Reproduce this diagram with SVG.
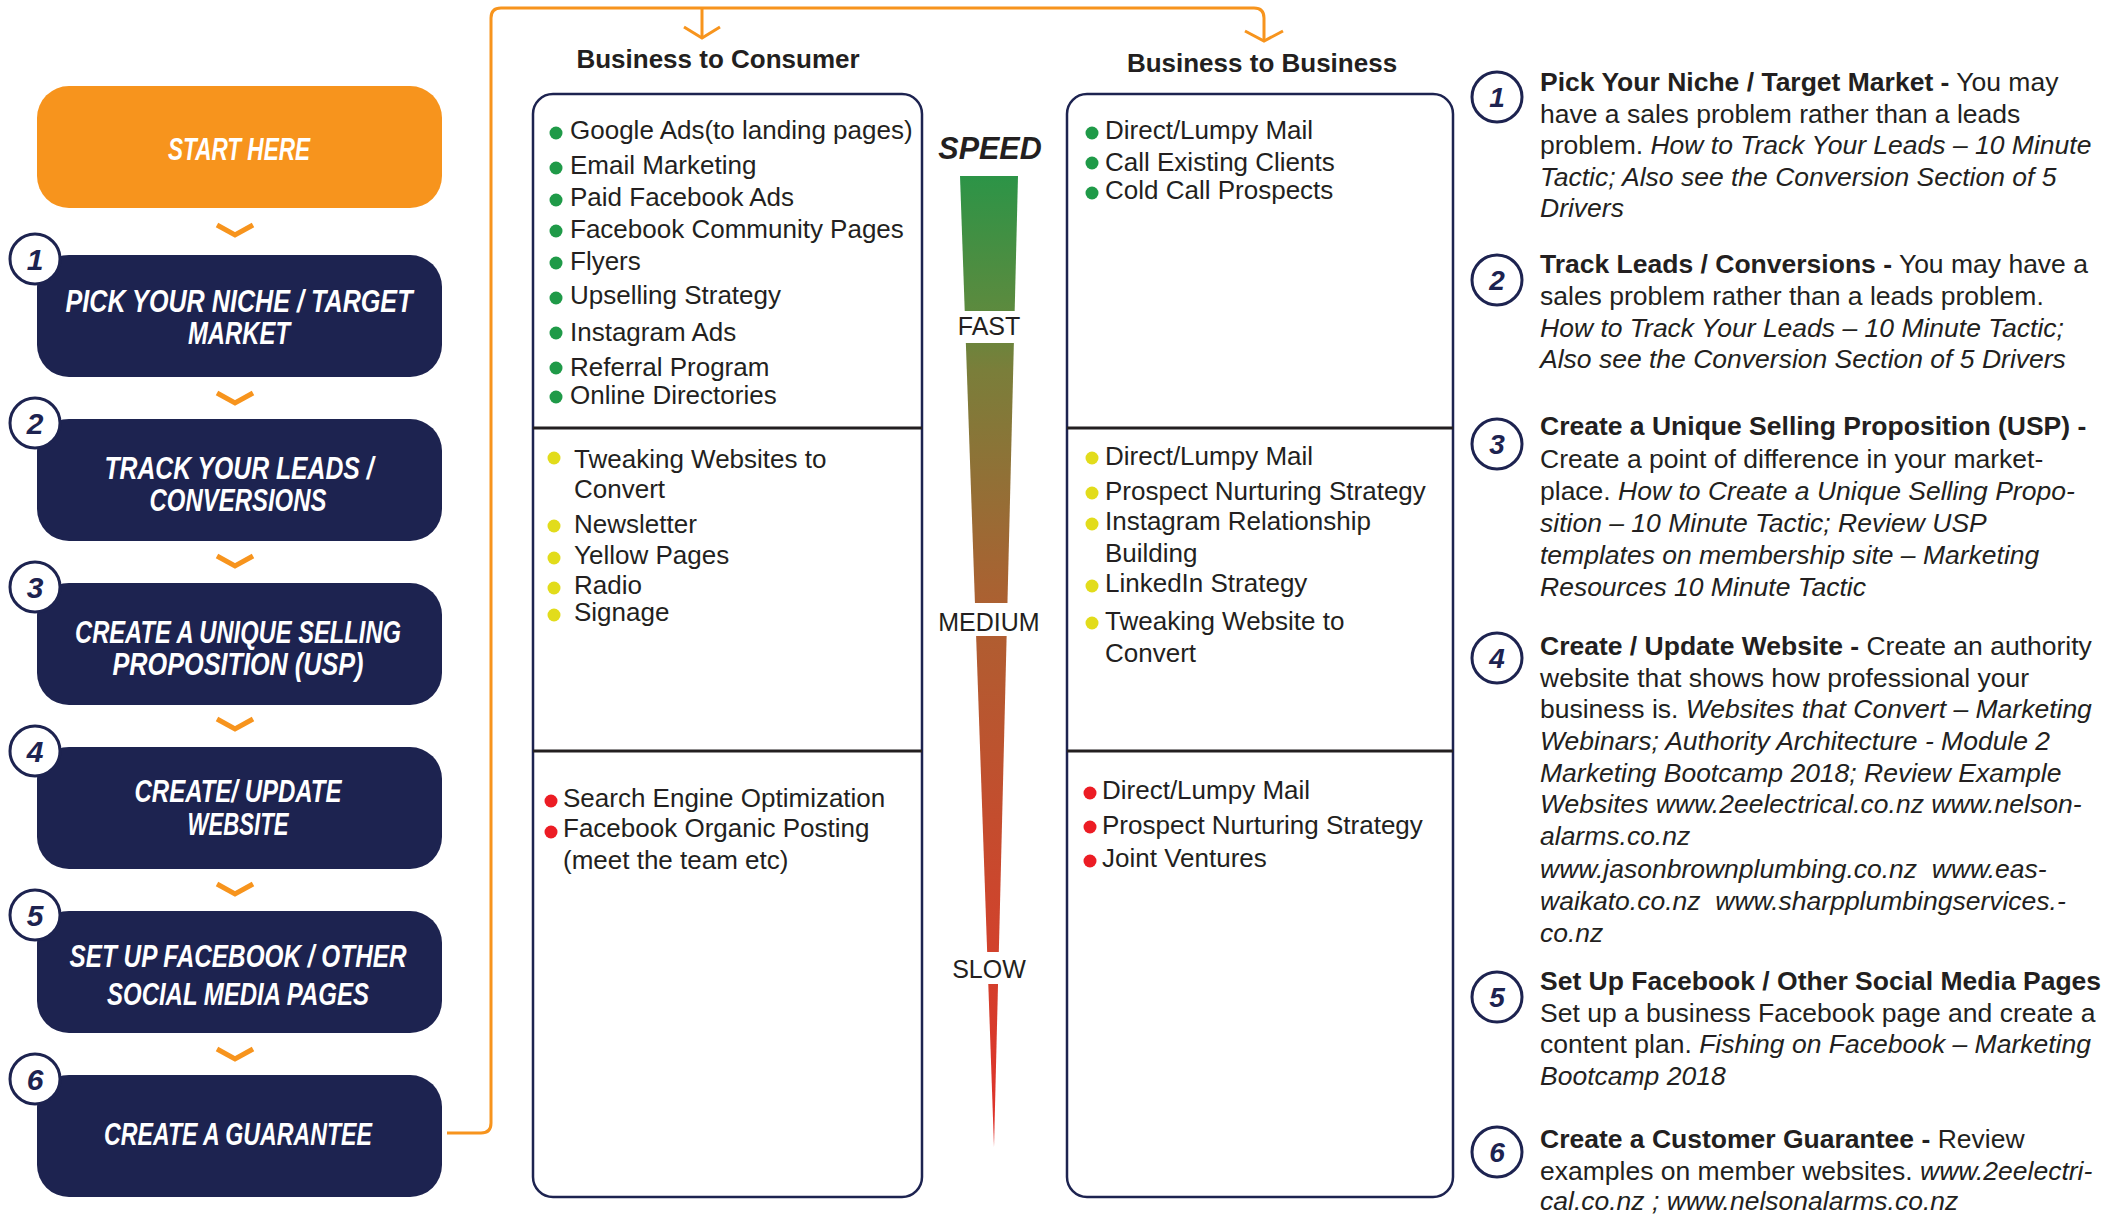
<svg xmlns="http://www.w3.org/2000/svg" width="2125" height="1216" viewBox="0 0 2125 1216">
<style>
.box{fill:#1d2350}
.start{fill:#f7941d}
.lbl{font-family:"Liberation Sans",Arial,sans-serif;font-weight:bold;font-style:italic;fill:#ffffff;font-size:32px;text-anchor:middle}
.num{font-family:"Liberation Sans",Arial,sans-serif;font-weight:bold;font-style:italic;fill:#1d2350;font-size:30px;text-anchor:middle}
.num2{font-family:"Liberation Sans",Arial,sans-serif;font-weight:bold;font-style:italic;fill:#1d2350;font-size:28px;text-anchor:middle}
.circ{fill:#ffffff;stroke:#1d2350;stroke-width:3}
.chev{fill:none;stroke:#f7941d;stroke-width:5}
.conn{fill:none;stroke:#f7941d;stroke-width:3}
.panel{fill:#ffffff;stroke:#1d2350;stroke-width:2.5}
.div{stroke:#231f20;stroke-width:3}
.hd{font-family:"Liberation Sans",Arial,sans-serif;font-weight:bold;font-size:26px;fill:#231f20;text-anchor:middle}
.item{font-family:"Liberation Sans",Arial,sans-serif;font-size:26px;fill:#231f20}
.g{fill:#1f9a48}.y{fill:#e2dc1b}.r{fill:#ec1c24}
.spd{font-family:"Liberation Sans",Arial,sans-serif;font-size:25px;fill:#231f20;text-anchor:middle}
.desc{font-family:"Liberation Sans",Arial,sans-serif;font-size:26.5px;fill:#231f20}
.b{font-weight:bold}.i{font-style:italic}
</style>
<defs>
<linearGradient id="speedGrad" gradientUnits="userSpaceOnUse" x1="0" y1="176" x2="0" y2="1147">
<stop offset="0" stop-color="#2c9447"/>
<stop offset="0.14" stop-color="#5d8a3e"/>
<stop offset="0.2" stop-color="#7a7e3a"/>
<stop offset="0.45" stop-color="#ae5f31"/>
<stop offset="0.8" stop-color="#d2412c"/>
<stop offset="1" stop-color="#e0302a"/>
</linearGradient>
</defs>
<rect width="2125" height="1216" fill="#ffffff"/>

<!-- connectors -->
<g id="connectors">
<path class="conn" d="M447,1133 H481 Q491,1133 491,1123 V18 Q491,8 501,8 H1254 Q1264,8 1264,18 V40"/>
<path class="conn" d="M702,8 V38"/>
<polyline class="conn" points="684,27 702,38 720,27"/>
<polyline class="conn" points="1245,31 1264,41 1283,31"/>
<polyline class="chev" points="217,225 235,235 253,225"/>
<polyline class="chev" points="217,393 235,403 253,393"/>
<polyline class="chev" points="217,556 235,566 253,556"/>
<polyline class="chev" points="217,719 235,729 253,719"/>
<polyline class="chev" points="217,884 235,894 253,884"/>
<polyline class="chev" points="217,1049 235,1059 253,1049"/>
</g>

<!-- left flow -->
<g id="start">
<rect class="start" x="37" y="86" width="405" height="122" rx="32"/>
<text class="lbl" x="239" y="160" textLength="142" lengthAdjust="spacingAndGlyphs">START HERE</text>
</g>
<g id="step1">
<rect class="box" x="37" y="255" width="405" height="122" rx="32"/>
<circle class="circ" cx="35" cy="259" r="25"/>
<text class="num" x="35" y="270">1</text>
<text class="lbl" x="239" y="312" textLength="347" lengthAdjust="spacingAndGlyphs">PICK YOUR NICHE / TARGET</text>
<text class="lbl" x="239" y="344" textLength="102" lengthAdjust="spacingAndGlyphs">MARKET</text>
</g>
<g id="step2">
<rect class="box" x="37" y="419" width="405" height="122" rx="32"/>
<circle class="circ" cx="35" cy="423" r="25"/>
<text class="num" x="35" y="434">2</text>
<text class="lbl" x="239" y="479" textLength="269" lengthAdjust="spacingAndGlyphs">TRACK YOUR LEADS /</text>
<text class="lbl" x="238" y="511" textLength="177" lengthAdjust="spacingAndGlyphs">CONVERSIONS</text>
</g>
<g id="step3">
<rect class="box" x="37" y="583" width="405" height="122" rx="32"/>
<circle class="circ" cx="35" cy="587" r="25"/>
<text class="num" x="35" y="598">3</text>
<text class="lbl" x="238" y="643" textLength="326" lengthAdjust="spacingAndGlyphs">CREATE A UNIQUE SELLING</text>
<text class="lbl" x="238" y="675" textLength="251" lengthAdjust="spacingAndGlyphs">PROPOSITION (USP)</text>
</g>
<g id="step4">
<rect class="box" x="37" y="747" width="405" height="122" rx="32"/>
<circle class="circ" cx="35" cy="751" r="25"/>
<text class="num" x="35" y="762">4</text>
<text class="lbl" x="238" y="802" textLength="207" lengthAdjust="spacingAndGlyphs">CREATE/ UPDATE</text>
<text class="lbl" x="238" y="835" textLength="101" lengthAdjust="spacingAndGlyphs">WEBSITE</text>
</g>
<g id="step5">
<rect class="box" x="37" y="911" width="405" height="122" rx="32"/>
<circle class="circ" cx="35" cy="915" r="25"/>
<text class="num" x="35" y="926">5</text>
<text class="lbl" x="238" y="967" textLength="337" lengthAdjust="spacingAndGlyphs">SET UP FACEBOOK / OTHER</text>
<text class="lbl" x="238" y="1005" textLength="262" lengthAdjust="spacingAndGlyphs">SOCIAL MEDIA PAGES</text>
</g>
<g id="step6">
<rect class="box" x="37" y="1075" width="405" height="122" rx="32"/>
<circle class="circ" cx="35" cy="1079" r="25"/>
<text class="num" x="35" y="1090">6</text>
<text class="lbl" x="238" y="1145" textLength="268" lengthAdjust="spacingAndGlyphs">CREATE A GUARANTEE</text>
</g>

<!-- B2C -->
<g id="b2c">
<text class="hd" x="718" y="68">Business to Consumer</text>
<rect class="panel" x="533" y="94" width="389" height="1103" rx="20"/>
<line class="div" x1="533" y1="428" x2="922" y2="428"/>
<line class="div" x1="533" y1="751" x2="922" y2="751"/>
<g class="g">
<circle cx="556" cy="133" r="6.5"/><circle cx="556" cy="168" r="6.5"/><circle cx="556" cy="200" r="6.5"/>
<circle cx="556" cy="231" r="6.5"/><circle cx="556" cy="263" r="6.5"/><circle cx="556" cy="298" r="6.5"/>
<circle cx="556" cy="333" r="6.5"/><circle cx="556" cy="368" r="6.5"/><circle cx="556" cy="397" r="6.5"/>
</g>
<text class="item" x="570" y="139">Google Ads(to landing pages)</text>
<text class="item" x="570" y="174">Email Marketing</text>
<text class="item" x="570" y="206">Paid Facebook Ads</text>
<text class="item" x="570" y="238">Facebook Community Pages</text>
<text class="item" x="570" y="270">Flyers</text>
<text class="item" x="570" y="304">Upselling Strategy</text>
<text class="item" x="570" y="341">Instagram Ads</text>
<text class="item" x="570" y="376">Referral Program</text>
<text class="item" x="570" y="404">Online Directories</text>
<g class="y">
<circle cx="554" cy="458" r="6.5"/><circle cx="554" cy="526" r="6.5"/><circle cx="554" cy="558" r="6.5"/>
<circle cx="554" cy="588" r="6.5"/><circle cx="554" cy="615" r="6.5"/>
</g>
<text class="item" x="574" y="468">Tweaking Websites to</text>
<text class="item" x="574" y="498">Convert</text>
<text class="item" x="574" y="533">Newsletter</text>
<text class="item" x="574" y="564">Yellow Pages</text>
<text class="item" x="574" y="594">Radio</text>
<text class="item" x="574" y="621">Signage</text>
<g class="r">
<circle cx="551" cy="801" r="6.5"/><circle cx="551" cy="832" r="6.5"/>
</g>
<text class="item" x="563" y="807">Search Engine Optimization</text>
<text class="item" x="563" y="837">Facebook Organic Posting</text>
<text class="item" x="563" y="869">(meet the team etc)</text>
</g>

<!-- speed -->
<g id="speed">
<text x="990" y="159" font-family="'Liberation Sans',Arial,sans-serif" font-size="30.5" font-weight="bold" font-style="italic" fill="#231f20" text-anchor="middle">SPEED</text>
<polygon points="960,176 1018,176 994,1147" fill="url(#speedGrad)"/>
<rect x="945" y="311" width="90" height="32" fill="#ffffff"/>
<rect x="930" y="603" width="120" height="33" fill="#ffffff"/>
<rect x="945" y="952" width="90" height="32" fill="#ffffff"/>
<text class="spd" x="989" y="335">FAST</text>
<text class="spd" x="989" y="631">MEDIUM</text>
<text class="spd" x="989" y="978">SLOW</text>
</g>

<!-- B2B -->
<g id="b2b">
<text class="hd" x="1262" y="72">Business to Business</text>
<rect class="panel" x="1067" y="94" width="386" height="1103" rx="20"/>
<line class="div" x1="1067" y1="428" x2="1453" y2="428"/>
<line class="div" x1="1067" y1="751" x2="1453" y2="751"/>
<g class="g">
<circle cx="1092" cy="133" r="6.5"/><circle cx="1092" cy="163" r="6.5"/><circle cx="1092" cy="193" r="6.5"/>
</g>
<text class="item" x="1105" y="139">Direct/Lumpy Mail</text>
<text class="item" x="1105" y="171">Call Existing Clients</text>
<text class="item" x="1105" y="199">Cold Call Prospects</text>
<g class="y">
<circle cx="1092" cy="458" r="6.5"/><circle cx="1092" cy="493" r="6.5"/><circle cx="1092" cy="524" r="6.5"/>
<circle cx="1092" cy="586" r="6.5"/><circle cx="1092" cy="623" r="6.5"/>
</g>
<text class="item" x="1105" y="465">Direct/Lumpy Mail</text>
<text class="item" x="1105" y="500">Prospect Nurturing Strategy</text>
<text class="item" x="1105" y="530">Instagram Relationship</text>
<text class="item" x="1105" y="562">Building</text>
<text class="item" x="1105" y="592">LinkedIn Strategy</text>
<text class="item" x="1105" y="630">Tweaking Website to</text>
<text class="item" x="1105" y="662">Convert</text>
<g class="r">
<circle cx="1090" cy="793" r="6.5"/><circle cx="1090" cy="827" r="6.5"/><circle cx="1090" cy="861" r="6.5"/>
</g>
<text class="item" x="1102" y="799">Direct/Lumpy Mail</text>
<text class="item" x="1102" y="834">Prospect Nurturing Strategy</text>
<text class="item" x="1102" y="867">Joint Ventures</text>
</g>

<!-- right descriptions -->
<g id="desc1">
<circle class="circ" cx="1497" cy="97" r="25"/>
<text class="num2" x="1497" y="107">1</text>
<text class="desc" x="1540" y="91"><tspan class="b">Pick Your Niche / Target Market -</tspan> You may</text>
<text class="desc" x="1540" y="123">have a sales problem rather than a leads</text>
<text class="desc" x="1540" y="154">problem. <tspan class="i">How to Track Your Leads – 10 Minute</tspan></text>
<text class="desc i" x="1540" y="186">Tactic; Also see the Conversion Section of 5</text>
<text class="desc i" x="1540" y="217">Drivers</text>
</g>
<g id="desc2">
<circle class="circ" cx="1497" cy="280" r="25"/>
<text class="num2" x="1497" y="290">2</text>
<text class="desc" x="1540" y="273"><tspan class="b">Track Leads / Conversions -</tspan> You may have a</text>
<text class="desc" x="1540" y="305">sales problem rather than a leads problem.</text>
<text class="desc i" x="1540" y="337">How to Track Your Leads – 10 Minute Tactic;</text>
<text class="desc i" x="1540" y="368">Also see the Conversion Section of 5 Drivers</text>
</g>
<g id="desc3">
<circle class="circ" cx="1497" cy="444" r="25"/>
<text class="num2" x="1497" y="454">3</text>
<text class="desc b" x="1540" y="435">Create a Unique Selling Proposition (USP) -</text>
<text class="desc" x="1540" y="468">Create a point of difference in your market-</text>
<text class="desc" x="1540" y="500">place. <tspan class="i">How to Create a Unique Selling Propo-</tspan></text>
<text class="desc i" x="1540" y="532">sition – 10 Minute Tactic; Review USP</text>
<text class="desc i" x="1540" y="564">templates on membership site – Marketing</text>
<text class="desc i" x="1540" y="596">Resources 10 Minute Tactic</text>
</g>
<g id="desc4">
<circle class="circ" cx="1497" cy="658" r="25"/>
<text class="num2" x="1497" y="668">4</text>
<text class="desc" x="1540" y="655"><tspan class="b">Create / Update Website -</tspan> Create an authority</text>
<text class="desc" x="1540" y="687">website that shows how professional your</text>
<text class="desc" x="1540" y="718">business is. <tspan class="i">Websites that Convert – Marketing</tspan></text>
<text class="desc i" x="1540" y="750">Webinars; Authority Architecture - Module 2</text>
<text class="desc i" x="1540" y="782">Marketing Bootcamp 2018; Review Example</text>
<text class="desc i" x="1540" y="813">Websites www.2eelectrical.co.nz www.nelson-</text>
<text class="desc i" x="1540" y="845">alarms.co.nz</text>
<text class="desc i" x="1540" y="878" xml:space="preserve">www.jasonbrownplumbing.co.nz  www.eas-</text>
<text class="desc i" x="1540" y="910" xml:space="preserve">waikato.co.nz  www.sharpplumbingservices.-</text>
<text class="desc i" x="1540" y="942">co.nz</text>
</g>
<g id="desc5">
<circle class="circ" cx="1497" cy="997" r="25"/>
<text class="num2" x="1497" y="1007">5</text>
<text class="desc b" x="1540" y="990">Set Up Facebook / Other Social Media Pages</text>
<text class="desc" x="1540" y="1022">Set up a business Facebook page and create a</text>
<text class="desc" x="1540" y="1053">content plan. <tspan class="i">Fishing on Facebook – Marketing</tspan></text>
<text class="desc i" x="1540" y="1085">Bootcamp 2018</text>
</g>
<g id="desc6">
<circle class="circ" cx="1497" cy="1152" r="25"/>
<text class="num2" x="1497" y="1162">6</text>
<text class="desc" x="1540" y="1148"><tspan class="b">Create a Customer Guarantee -</tspan> Review</text>
<text class="desc" x="1540" y="1180">examples on member websites. <tspan class="i">www.2eelectri-</tspan></text>
<text class="desc i" x="1540" y="1210">cal.co.nz ; www.nelsonalarms.co.nz</text>
</g>
</svg>
